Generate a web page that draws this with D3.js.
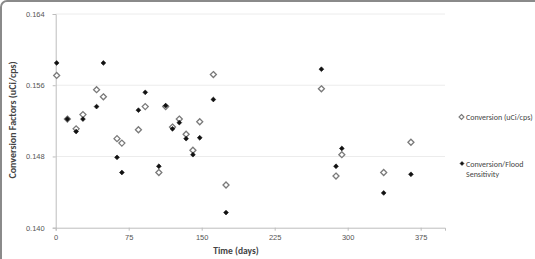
<!DOCTYPE html>
<html>
<head>
<meta charset="utf-8">
<script src="https://cdn.jsdelivr.net/npm/d3@7"></script>
<style>
  html, body { margin: 0; padding: 0; background: #fff; }
  svg { display: block; font-family: Calibri, Carlito, "Open Sans", "Liberation Sans", sans-serif; }
</style>
</head>
<body>
<svg id="chart" width="535" height="259"></svg>
<script>
// Data
const days = [1, 12, 21, 28, 42, 49, 63, 68, 85, 92, 106, 113, 120, 127, 134, 141, 148, 162, 175, 273, 288, 294, 337, 365];
const conversion = [0.1571, 0.1522, 0.1511, 0.1527, 0.1555, 0.1547, 0.1500, 0.1495, 0.1510, 0.1536, 0.1462, 0.1536, 0.1513, 0.1522, 0.1505, 0.1487, 0.1519, 0.1572, 0.1448, 0.1556, 0.1458, 0.1482, 0.1462, 0.1496];
const floodSensitivity = [0.1585, 0.1522, 0.1508, 0.1522, 0.1536, 0.1585, 0.1479, 0.1462, 0.1532, 0.1552, 0.1469, 0.1537, 0.1511, 0.1518, 0.1500, 0.1482, 0.1501, 0.1544, 0.1417, 0.1578, 0.1469, 0.1489, 0.1439, 0.1460];
const xTicks = [0, 75, 150, 225, 300, 375];
const yTicks = [0.140, 0.148, 0.156, 0.164];
const seriesNames = ["Conversion (uCi/cps)", ["Conversion/Flood", "Sensitivity"]];

const svg = d3.select("#chart");

// frame (only top/left visible in crop)
svg.append("rect")
  .attr("x", 1).attr("y", 1).attr("width", 560).attr("height", 300)
  .attr("rx", 6).attr("ry", 6)
  .attr("fill", "none").attr("stroke", "#8a8a8a").attr("stroke-width", 2);

const x = d3.scaleLinear().domain([0, 400]).range([55.7, 445]);
const y = d3.scaleLinear().domain([0.140, 0.164]).range([227.7, 14]);

// gridlines
svg.append("g").selectAll("line")
  .data(yTicks.filter(t => t > 0.140))
  .join("line")
  .attr("x1", x(0)).attr("x2", x(400))
  .attr("y1", d => y(d)).attr("y2", d => y(d))
  .attr("stroke", "#ececec").attr("stroke-width", 1);

// y axis
const yAxis = d3.axisLeft(y).tickValues(yTicks).tickFormat(d3.format(".3f")).tickSize(3).tickPadding(8);
const gy = svg.append("g").attr("transform", `translate(${x(0)},0)`).call(yAxis);
gy.select(".domain").attr("stroke", "#bdbdbd");
gy.selectAll(".tick line").attr("stroke", "#bdbdbd");
gy.selectAll(".tick text").attr("fill", "#555").style("font-size", "7.5px");

// x axis
const xAxis = d3.axisBottom(x).tickValues(xTicks).tickSize(3).tickPadding(4);
const gx = svg.append("g").attr("transform", `translate(0,${y(0.140)})`).call(xAxis);
gx.select(".domain").attr("stroke", "#bdbdbd");
gx.selectAll(".tick line").attr("stroke", "#bdbdbd");
gx.selectAll(".tick text").attr("fill", "#555").style("font-size", "7.5px");

// axis titles
svg.append("text")
  .attr("x", 236).attr("y", 254)
  .attr("text-anchor", "middle")
  .style("font-size", "9.5px").style("font-weight", "bold").attr("fill", "#444")
  .text("Time (days)");
svg.append("text")
  .attr("transform", "translate(16,120) rotate(-90)")
  .attr("text-anchor", "middle")
  .style("font-size", "10px").style("font-weight", "bold").attr("fill", "#444")
  .text("Conversion Factors (uCi/cps)");

const diamond = (cx, cy, r) => `M${cx},${cy - r}L${cx + r},${cy}L${cx},${cy + r}L${cx - r},${cy}Z`;

// Conversion series: open diamonds
svg.append("g").selectAll("path")
  .data(days.map((d, i) => [d, conversion[i]]))
  .join("path")
  .attr("d", d => diamond(x(d[0]), y(d[1]), 3))
  .attr("fill", "#fff").attr("stroke", "#7a7a7a").attr("stroke-width", 1.3);

// Flood series: filled black diamonds
svg.append("g").selectAll("path")
  .data(days.map((d, i) => [d, floodSensitivity[i]]))
  .join("path")
  .attr("d", d => diamond(x(d[0]), y(d[1]), 2.4))
  .attr("fill", "#111").attr("stroke", "#111").attr("stroke-width", 0.6);

// legend
const lg = svg.append("g");
lg.append("path").attr("d", diamond(461.5, 117, 2.5))
  .attr("fill", "#fff").attr("stroke", "#7a7a7a").attr("stroke-width", 1.1);
lg.append("text").attr("x", 466).attr("y", 120)
  .style("font-size", "8px").attr("fill", "#444").text(seriesNames[0]);
lg.append("path").attr("d", diamond(462, 163.5, 2))
  .attr("fill", "#111").attr("stroke", "#111").attr("stroke-width", 0.5);
lg.append("text").attr("x", 466).attr("y", 166.5)
  .style("font-size", "8px").attr("fill", "#444").text(seriesNames[1][0]);
lg.append("text").attr("x", 466).attr("y", 176.5)
  .style("font-size", "8px").attr("fill", "#444").text(seriesNames[1][1]);
</script>
</body>
</html>
